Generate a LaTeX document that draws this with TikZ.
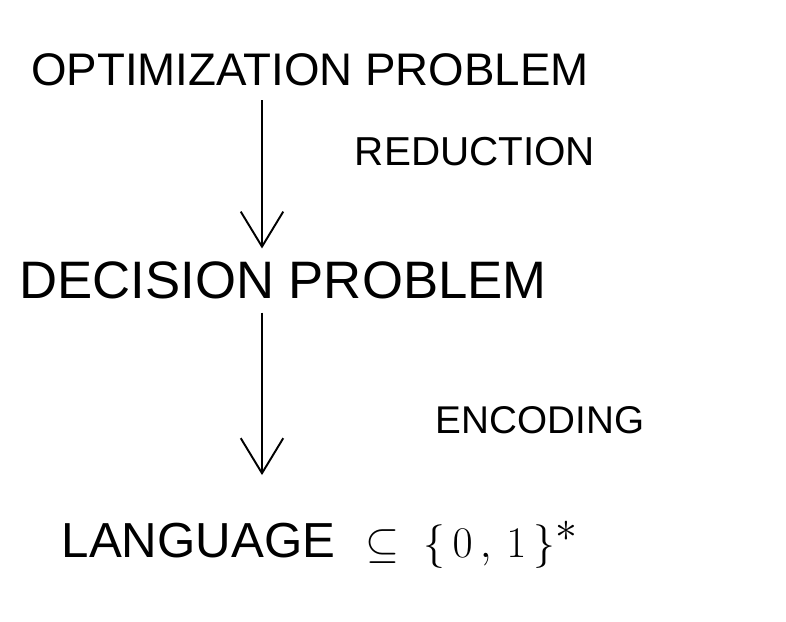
\documentclass[tikz,border=0pt]{standalone}
\usepackage{fontspec}
\setmainfont{Liberation Sans}
\usetikzlibrary{arrows.meta}

\begin{document}
\begin{tikzpicture}[
    stage/.style={font=\fontsize{26}{31}\selectfont, inner sep=2pt},
    step label/.style={font=\fontsize{22}{26}\selectfont, inner sep=2pt},
    myarrow/.style={-{Straight Barb[length=0.7cm, width=0.85cm]}, line width=1.1pt},
]
\useasboundingbox (0,0) rectangle (15.72,-12.44);

\node[stage] (opt)  at (6.2,-1.4)   {OPTIMIZATION PROBLEM};
\node[step label, font=\fontsize{23}{27}\selectfont] (red) at (9.5,-3.04) {REDUCTION};
\node[stage, font=\fontsize{30}{36}\selectfont] (dec)  at (5.66,-5.6)  {DECISION PROBLEM};
\node[step label] (enc) at (10.8,-8.4) {ENCODING};
\node[stage, font=\fontsize{28}{34}\selectfont] (lang) at (6.4,-10.9)
    {LANGUAGE\hspace{0.6cm}{\fontsize{42}{50}\selectfont$\subseteq\;\{\,0\,,\,1\,\}^{*}$}};

\coordinate (axis) at (5.24,0);

\draw[myarrow, shorten <=0.2cm, shorten >=0.18cm] (opt.south -| axis) -- (dec.north -| axis);
\draw[myarrow, shorten <=0.2cm, shorten >=0.85cm] (dec.south -| axis) -- (lang.north -| axis);
\end{tikzpicture}
\end{document}
